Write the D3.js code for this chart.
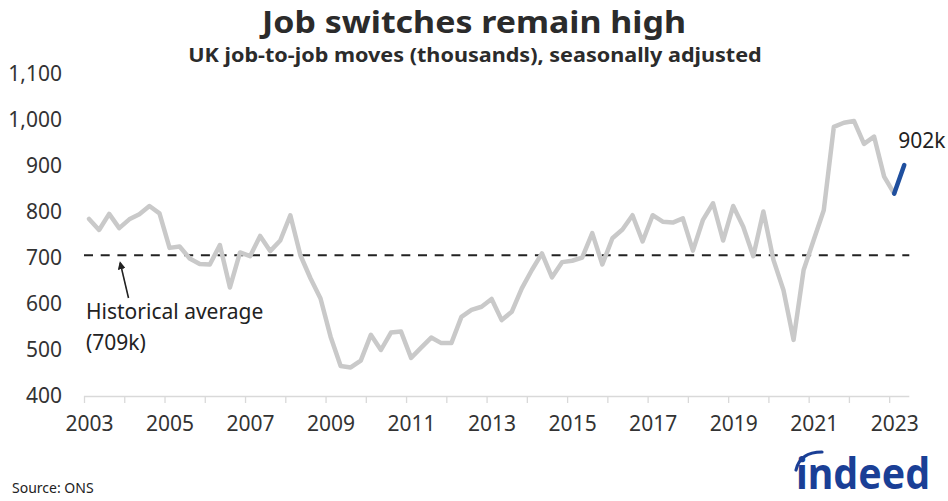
<!DOCTYPE html>
<html>
<head>
<meta charset="utf-8">
<script src="https://cdn.jsdelivr.net/npm/d3@7"></script>
<style>
  html, body { margin: 0; padding: 0; background: #ffffff; }
  svg { display: block; font-family: "Noto Sans", "Open Sans", sans-serif; }
</style>
</head>
<body>
<svg id="chart" width="948" height="501"></svg>
<script>
// ---------------- data ----------------
const quarters = [
  "2003Q1","2003Q2","2003Q3","2003Q4","2004Q1","2004Q2","2004Q3","2004Q4",
  "2005Q1","2005Q2","2005Q3","2005Q4","2006Q1","2006Q2","2006Q3","2006Q4",
  "2007Q1","2007Q2","2007Q3","2007Q4","2008Q1","2008Q2","2008Q3","2008Q4",
  "2009Q1","2009Q2","2009Q3","2009Q4","2010Q1","2010Q2","2010Q3","2010Q4",
  "2011Q1","2011Q2","2011Q3","2011Q4","2012Q1","2012Q2","2012Q3","2012Q4",
  "2013Q1","2013Q2","2013Q3","2013Q4","2014Q1","2014Q2","2014Q3","2014Q4",
  "2015Q1","2015Q2","2015Q3","2015Q4","2016Q1","2016Q2","2016Q3","2016Q4",
  "2017Q1","2017Q2","2017Q3","2017Q4","2018Q1","2018Q2","2018Q3","2018Q4",
  "2019Q1","2019Q2","2019Q3","2019Q4","2020Q1","2020Q2","2020Q3","2020Q4",
  "2021Q1","2021Q2","2021Q3","2021Q4","2022Q1","2022Q2","2022Q3","2022Q4",
  "2023Q1","2023Q2"
];
const jobMoves = [
  785, 761, 796, 765, 784, 795, 813, 797,
  722, 725, 699, 687, 686, 728, 636, 712,
  704, 748, 715, 738, 793, 706, 656, 612,
  529, 465, 462, 477, 533, 500, 538, 540,
  483, 505, 527, 515, 515, 572, 587, 594,
  611, 565, 583, 634, 674, 710, 658, 691,
  694, 701, 754, 686, 743, 762, 793, 736,
  793, 779, 777, 786, 716, 783, 819, 738,
  813, 768, 704, 801, 696, 630, 522, 674,
  739, 804, 985, 994, 998, 948, 964, 877,
  840, 902
];
const historicalAverage = 709;
const yTicks = [400, 500, 600, 700, 800, 900, 1000, 1100];
const xTickYears = [2003,2004,2005,2006,2007,2008,2009,2010,2011,2012,2013,2014,2015,2016,2017,2018,2019,2020,2021,2022,2023];
const xLabelYears = [2003,2005,2007,2009,2011,2013,2015,2017,2019,2021,2023];
const titleText = "Job switches remain high";
const subtitleText = "UK job-to-job moves (thousands), seasonally adjusted";
const annotationLines = ["Historical average", "(709k)"];
const endLabel = "902k";
const sourceText = "Source: ONS";

// ---------------- layout ----------------
const svg = d3.select("#chart");
const plotLeft = 84, plotRight = 909.3, plotBottom = 396, plotTop = 74;

const toYear = q => +q.slice(0, 4) + (+q.slice(5) - 1) / 4 + 0.125;
const x = d3.scaleLinear().domain([2003, 2023.5]).range([plotLeft, plotRight]);
const y = d3.scaleLinear().domain([400, 1100]).range([plotBottom, plotTop]);

// helper: horizontally scale a text to a target width (condensed look)
function fitWidth(sel, targetW, cx, baseY) {
  const w = sel.node().getComputedTextLength();
  const sx = targetW / w;
  sel.attr("x", 0).attr("y", 0).attr("text-anchor", "middle")
    .attr("transform", `translate(${cx},${baseY}) scale(${sx},1)`);
}

// title
const title = svg.append("text")
  .attr("font-size", 30.5).attr("font-weight", 700)
  .attr("fill", "#2b2b2b")
  .text(titleText);
fitWidth(title, 424, 474, 33);

const subtitle = svg.append("text")
  .attr("font-size", 20).attr("font-weight", 700)
  .attr("fill", "#2b2b2b")
  .text(subtitleText);
fitWidth(subtitle, 574, 475, 62);

// y axis labels
const yAxis = d3.axisLeft(y).tickValues(yTicks).tickSize(0).tickPadding(22)
  .tickFormat(d3.format(","));
const gy = svg.append("g").attr("transform", `translate(${plotLeft},0)`).call(yAxis);
gy.select(".domain").remove();
gy.selectAll("text").attr("font-size", 21).attr("fill", "#333333")
  .attr("font-family", "Noto Sans, sans-serif");

// x axis: baseline with yearly ticks
const xAxisTicks = d3.axisBottom(x).tickValues(xTickYears).tickSize(7).tickFormat("");
const gx = svg.append("g").attr("transform", `translate(0,${plotBottom})`).call(xAxisTicks);
gx.select(".domain").attr("stroke", "#d9d9d9").attr("stroke-width", 1.3)
  .attr("d", `M${plotLeft},0.5H${plotRight}`);
gx.selectAll(".tick line").attr("stroke", "#d9d9d9").attr("stroke-width", 1.3);

// x labels centred on first quarter of each labelled year
const xAxisLabels = d3.axisBottom(x).tickValues(xLabelYears.map(v => v + 0.125))
  .tickSize(0).tickPadding(20).tickFormat(d => String(Math.floor(d)));
const gxl = svg.append("g").attr("transform", `translate(0,${plotBottom})`).call(xAxisLabels);
gxl.select(".domain").remove();
gxl.selectAll("text").attr("font-size", 21).attr("fill", "#333333")
  .attr("font-family", "Noto Sans, sans-serif");

// historical average dashed line
svg.append("line")
  .attr("x1", plotLeft).attr("x2", plotRight)
  .attr("y1", y(historicalAverage) + 1.5).attr("y2", y(historicalAverage) + 1.5)
  .attr("stroke", "#222").attr("stroke-width", 2)
  .attr("stroke-dasharray", "9,7.7");

// grey series line
const data = quarters.map((q, i) => ({ t: toYear(q), v: jobMoves[i] }));
const line = d3.line().x(d => x(d.t)).y(d => y(d.v));
svg.append("path")
  .datum(data.slice(0, data.length - 1))
  .attr("d", line)
  .attr("fill", "none")
  .attr("stroke", "#c9c9c9").attr("stroke-width", 4.5)
  .attr("stroke-linejoin", "round").attr("stroke-linecap", "round");

// blue latest segment
svg.append("path")
  .datum(data.slice(data.length - 2))
  .attr("d", line)
  .attr("fill", "none")
  .attr("stroke", "#1f4f9e").attr("stroke-width", 4.5)
  .attr("stroke-linecap", "round");

// end label
const last = data[data.length - 1];
svg.append("text")
  .attr("x", x(last.t) - 6).attr("y", y(last.v) - 17)
  .attr("font-size", 21).attr("fill", "#222")
  .text(endLabel);

// annotation arrow + text
svg.append("defs").append("marker")
  .attr("id", "arrowhead").attr("viewBox", "0 0 10 10")
  .attr("refX", 8).attr("refY", 5)
  .attr("markerWidth", 5).attr("markerHeight", 5)
  .attr("orient", "auto-start-reverse")
  .append("path").attr("d", "M0,0L10,5L0,10z").attr("fill", "#222");

svg.append("line")
  .attr("x1", 128.5).attr("y1", 298)
  .attr("x2", x(2003.9)).attr("y2", y(historicalAverage) + 9)
  .attr("stroke", "#222").attr("stroke-width", 1.6)
  .attr("marker-end", "url(#arrowhead)");

const ann = svg.append("text").attr("font-size", 21).attr("fill", "#222");
annotationLines.forEach((t, i) => {
  ann.append("tspan").attr("x", 86).attr("y", 319 + i * 31).text(t);
});

// source
svg.append("text")
  .attr("x", 12).attr("y", 493)
  .attr("font-size", 14).attr("fill", "#222")
  .text(sourceText);

// indeed logo (text based)
const logo = svg.append("g");
const logoText = logo.append("text")
  .attr("font-size", 43).attr("font-weight", 700)
  .attr("fill", "#1a3f96")
  .text("indeed");
fitWidth(logoText, 134, 863, 489);
logo.append("path")
  .attr("d", "M796,470 Q800,452 822,452")
  .attr("fill", "none").attr("stroke", "#1a3f96").attr("stroke-width", 3.2)
  .attr("stroke-linecap", "round");
</script>
</body>
</html>
